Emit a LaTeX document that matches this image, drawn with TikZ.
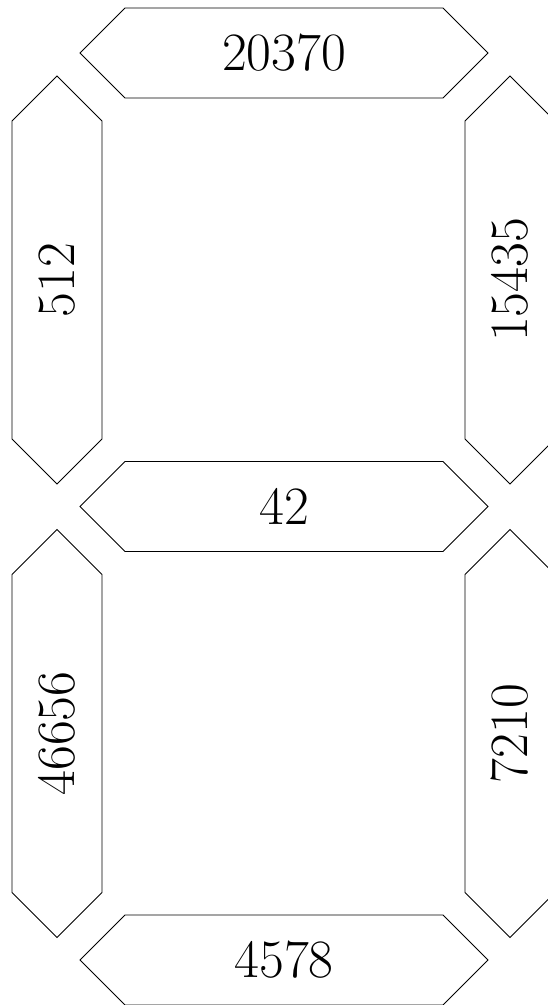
\documentclass[tikz,border=0pt]{standalone}
\usepackage{tikz}
\tikzset{
  seg/.style={draw=black, line width=0.9pt, line join=miter},
  lbl/.style={inner sep=0pt, font=\fontsize{54}{60}\selectfont},
}
\newcommand\hseg[4]{% cx, cy, name, text
  \draw[seg] (#1-204,#2) -- ++(45,-45) -- ++(318,0) -- ++(45,45) -- ++(-45,45) -- ++(-318,0) -- cycle;
  \node[lbl] (#3) at (#1,#2) {#4};}
\newcommand\vseg[4]{% cx, cy, name, text
  \draw[seg] (#1,#2-204) -- ++(45,45) -- ++(0,318) -- ++(-45,45) -- ++(-45,-45) -- ++(0,-318) -- cycle;
  \node[lbl, rotate=90] (#3) at (#1,#2) {#4};}
\begin{document}
\begin{tikzpicture}[x=1pt, y=-1pt]
  \useasboundingbox (0,0) rectangle (548,1005);
  \clip (0,0) rectangle (548,1005);
  \hseg{284}{53}{a}{20370}
  \vseg{510}{280}{b}{15435}
  \vseg{510}{733.5}{c}{7210}
  \hseg{284}{960}{d}{4578}
  \vseg{57}{733.5}{e}{46656}
  \vseg{57}{280}{f}{512}
  \hseg{284}{506.5}{g}{42}
\end{tikzpicture}
\end{document}
